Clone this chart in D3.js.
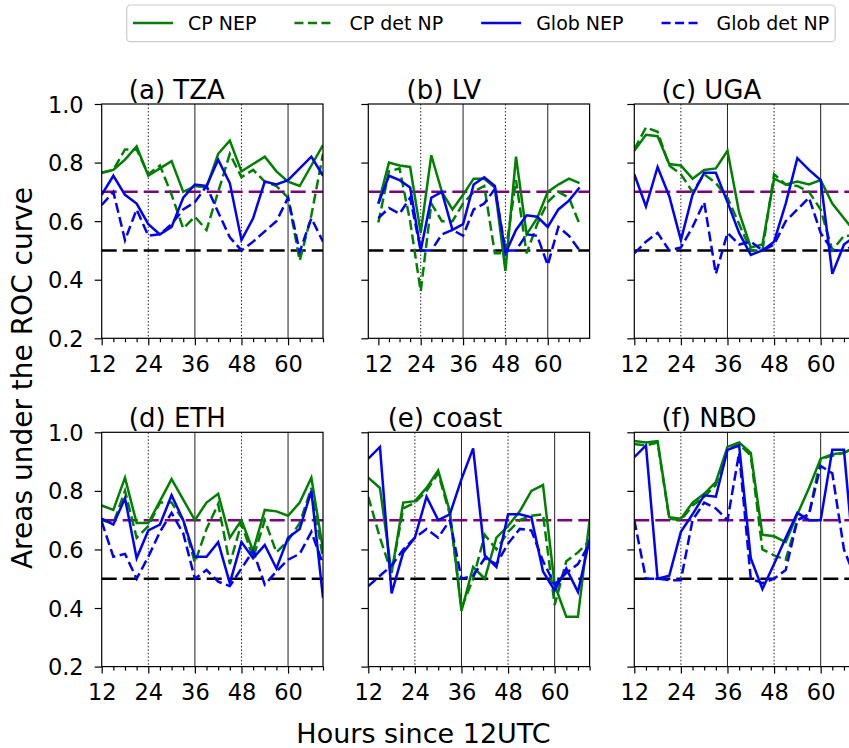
<!DOCTYPE html>
<html>
<head>
<meta charset="utf-8">
<script src="https://cdn.jsdelivr.net/npm/d3@7"></script>
<style>
  body { margin: 0; background: #fff; }
  svg { display: block; font-family: "DejaVu Sans", sans-serif; }
  .tick line { stroke: #000; stroke-width: 1.2; }
</style>
</head>
<body>
<div id="chart"></div>
<script>
// lead times (hours since 12UTC)
const hours = [12, 15, 18, 21, 24, 27, 30, 33, 36, 39, 42, 45, 48, 51, 54, 57, 60, 63, 66, 69];
const xMajor = [12, 24, 36, 48, 60];
const yTicks = [0.2, 0.4, 0.6, 0.8, 1.0];

// (a) TZA
const tzaCpNep = [0.765, 0.775, 0.81, 0.855, 0.755, 0.78, 0.805, 0.70, 0.72, 0.715, 0.83, 0.875, 0.77, 0.795, 0.82, 0.77, 0.735, 0.72, 0.79, 0.86];
const tzaCpDet = [0.765, 0.775, 0.845, 0.845, 0.76, 0.79, 0.69, 0.575, 0.615, 0.57, 0.70, 0.83, 0.75, 0.775, 0.735, 0.72, 0.68, 0.465, 0.62, 0.83];
const tzaGlNep = [0.69, 0.755, 0.69, 0.66, 0.59, 0.555, 0.58, 0.68, 0.725, 0.72, 0.81, 0.73, 0.535, 0.61, 0.735, 0.725, 0.74, 0.78, 0.82, 0.755];
const tzaGlDet = [0.655, 0.70, 0.535, 0.64, 0.55, 0.555, 0.59, 0.64, 0.665, 0.72, 0.63, 0.545, 0.50, 0.53, 0.565, 0.60, 0.68, 0.495, 0.61, 0.53];

// (b) LV
const lvCpNep = [0.66, 0.80, 0.79, 0.785, 0.56, 0.825, 0.70, 0.64, 0.69, 0.745, 0.745, 0.715, 0.43, 0.82, 0.555, 0.61, 0.70, 0.725, 0.745, 0.73];
const lvCpDet = [0.595, 0.77, 0.78, 0.60, 0.36, 0.66, 0.60, 0.60, 0.66, 0.70, 0.72, 0.49, 0.49, 0.74, 0.49, 0.59, 0.665, 0.70, 0.68, 0.59];
const lvGlNep = [0.66, 0.755, 0.74, 0.715, 0.50, 0.68, 0.70, 0.57, 0.59, 0.725, 0.75, 0.72, 0.49, 0.57, 0.62, 0.615, 0.58, 0.64, 0.67, 0.715];
const lvGlDet = [0.61, 0.645, 0.625, 0.68, 0.50, 0.50, 0.555, 0.57, 0.55, 0.64, 0.66, 0.71, 0.50, 0.50, 0.555, 0.55, 0.45, 0.58, 0.55, 0.50];

// (c) UGA
const ugaCpNep = [0.84, 0.895, 0.89, 0.795, 0.79, 0.745, 0.775, 0.78, 0.84, 0.63, 0.51, 0.52, 0.745, 0.725, 0.735, 0.725, 0.74, 0.66, 0.61, 0.56];
const ugaCpDet = [0.845, 0.92, 0.905, 0.79, 0.76, 0.70, 0.76, 0.73, 0.68, 0.59, 0.50, 0.50, 0.76, 0.725, 0.72, 0.70, 0.64, 0.50, 0.55, 0.55];
const ugaGlNep = [0.76, 0.65, 0.785, 0.685, 0.535, 0.69, 0.765, 0.765, 0.665, 0.56, 0.485, 0.50, 0.53, 0.66, 0.815, 0.775, 0.74, 0.42, 0.52, 0.55];
const ugaGlDet = [0.49, 0.53, 0.56, 0.50, 0.51, 0.58, 0.665, 0.42, 0.56, 0.52, 0.53, 0.50, 0.52, 0.60, 0.64, 0.68, 0.56, 0.50, 0.50, 0.52];

// (d) ETH
const ethCpNep = [0.75, 0.735, 0.845, 0.69, 0.69, 0.765, 0.84, 0.77, 0.70, 0.76, 0.79, 0.64, 0.70, 0.595, 0.735, 0.73, 0.715, 0.76, 0.845, 0.60];
const ethCpDet = [0.70, 0.69, 0.80, 0.64, 0.68, 0.76, 0.76, 0.70, 0.555, 0.67, 0.755, 0.55, 0.69, 0.57, 0.70, 0.59, 0.63, 0.69, 0.81, 0.57];
const ethGlNep = [0.705, 0.685, 0.775, 0.57, 0.665, 0.685, 0.785, 0.70, 0.575, 0.575, 0.625, 0.485, 0.625, 0.57, 0.615, 0.535, 0.64, 0.67, 0.80, 0.435];
const ethGlDet = [0.695, 0.575, 0.585, 0.50, 0.575, 0.66, 0.725, 0.655, 0.50, 0.53, 0.49, 0.475, 0.535, 0.595, 0.48, 0.525, 0.565, 0.585, 0.66, 0.55];

// (e) coast
const coastCpNep = [0.845, 0.81, 0.52, 0.76, 0.765, 0.81, 0.87, 0.73, 0.39, 0.54, 0.50, 0.64, 0.68, 0.73, 0.80, 0.82, 0.48, 0.37, 0.37, 0.70];
const coastCpDet = [0.78, 0.64, 0.52, 0.74, 0.76, 0.80, 0.86, 0.72, 0.40, 0.50, 0.65, 0.60, 0.66, 0.70, 0.715, 0.72, 0.41, 0.56, 0.59, 0.63];
const coastGlNep = [0.91, 0.95, 0.45, 0.59, 0.64, 0.78, 0.70, 0.72, 0.84, 0.945, 0.58, 0.54, 0.72, 0.72, 0.71, 0.525, 0.46, 0.535, 0.455, 0.635];
const coastGlDet = [0.475, 0.51, 0.545, 0.60, 0.64, 0.67, 0.64, 0.70, 0.50, 0.51, 0.57, 0.55, 0.62, 0.67, 0.665, 0.56, 0.48, 0.52, 0.55, 0.62];

// (f) NBO
const nboCpNep = [0.97, 0.965, 0.97, 0.71, 0.705, 0.76, 0.79, 0.83, 0.95, 0.965, 0.93, 0.65, 0.645, 0.625, 0.72, 0.81, 0.91, 0.925, 0.93, 0.95];
const nboCpDet = [0.96, 0.955, 0.965, 0.705, 0.70, 0.75, 0.78, 0.82, 0.94, 0.96, 0.92, 0.60, 0.58, 0.565, 0.70, 0.72, 0.91, 0.92, 0.93, 0.95];
const nboGlNep = [0.915, 0.955, 0.50, 0.51, 0.66, 0.72, 0.785, 0.78, 0.94, 0.955, 0.57, 0.465, 0.55, 0.64, 0.725, 0.70, 0.70, 0.94, 0.94, 0.50];
const nboGlDet = [0.70, 0.50, 0.50, 0.495, 0.495, 0.70, 0.76, 0.74, 0.70, 0.93, 0.50, 0.485, 0.50, 0.53, 0.70, 0.72, 0.885, 0.86, 0.60, 0.50];

const seriesNames = ["CP NEP", "CP det NP", "Glob NEP", "Glob det NP"];
const seriesColors = ["#008000", "#008000", "#0000ff", "#0000ff"];
const seriesDash = [null, "10,4.5", null, "10,4.5"];

const panels = [
  { title: "(a) TZA",   series: [tzaCpNep, tzaCpDet, tzaGlNep, tzaGlDet],         row: 0, col: 0, xdom: [12, 69],      titleAt: 19 },
  { title: "(b) LV",    series: [lvCpNep, lvCpDet, lvGlNep, lvGlDet],             row: 0, col: 1, xdom: [9.15, 71.85], titleAt: 20 },
  { title: "(c) UGA",   series: [ugaCpNep, ugaCpDet, ugaGlNep, ugaGlDet],         row: 0, col: 2, xdom: [12, 69],      titleAt: 19 },
  { title: "(d) ETH",   series: [ethCpNep, ethCpDet, ethGlNep, ethGlDet],         row: 1, col: 0, xdom: [12, 69],      titleAt: 19 },
  { title: "(e) coast", series: [coastCpNep, coastCpDet, coastGlNep, coastGlDet], row: 1, col: 1, xdom: [12, 69],      titleAt: 17 },
  { title: "(f) NBO",   series: [nboCpNep, nboCpDet, nboGlNep, nboGlDet],         row: 1, col: 2, xdom: [12, 69],      titleAt: 19 },
];

const width = 849, height = 748;
const colLeft = [101.7, 368.3, 634.3];
const rowTop = [104, 432.3];
const pw = 221.3, ph = 234.3;
const tickFont = 22.5;

const svg = d3.select("#chart").append("svg")
  .attr("width", width).attr("height", height);

const minorTicks = hours.filter((h) => !xMajor.includes(h));

panels.forEach((p, i) => {
  const left = colLeft[p.col], top = rowTop[p.row];
  const x = d3.scaleLinear().domain(p.xdom).range([0, pw]);
  const y = d3.scaleLinear().domain([0.2, 1.0]).range([ph, 0]);

  const g = svg.append("g").attr("transform", `translate(${left},${top})`);

  svg.append("clipPath").attr("id", "clip" + i)
    .append("rect").attr("width", pw).attr("height", ph);

  const plot = g.append("g").attr("clip-path", `url(#clip${i})`);

  // vertical guide lines
  [24, 48].forEach((h) => {
    plot.append("line")
      .attr("x1", x(h)).attr("x2", x(h)).attr("y1", 0).attr("y2", ph)
      .attr("stroke", "#222").attr("stroke-width", 1).attr("stroke-dasharray", "1.5,2");
  });
  [36, 60].forEach((h) => {
    plot.append("line")
      .attr("x1", x(h)).attr("x2", x(h)).attr("y1", 0).attr("y2", ph)
      .attr("stroke", "#222").attr("stroke-width", 1);
  });

  // reference levels
  plot.append("line")
    .attr("x1", 0).attr("x2", pw).attr("y1", y(0.7)).attr("y2", y(0.7))
    .attr("stroke", "#800080").attr("stroke-width", 2.5).attr("stroke-dasharray", "15,6");
  plot.append("line")
    .attr("x1", 0).attr("x2", pw).attr("y1", y(0.5)).attr("y2", y(0.5))
    .attr("stroke", "#000").attr("stroke-width", 2.5).attr("stroke-dasharray", "15,6");

  const line = d3.line().x((d, k) => x(hours[k])).y((d) => y(d));

  p.series.forEach((vals, s) => {
    plot.append("path")
      .datum(vals)
      .attr("d", line)
      .attr("fill", "none")
      .attr("stroke", seriesColors[s])
      .attr("stroke-width", 2.5)
      .attr("stroke-linejoin", "miter")
      .attr("stroke-dasharray", seriesDash[s]);
  });

  // x axis
  const xAxis = g.append("g").attr("transform", `translate(0,${ph})`)
    .call(d3.axisBottom(x).tickValues(xMajor).tickSize(7).tickPadding(10.6).tickFormat(d3.format("d")));
  xAxis.select(".domain").remove();
  xAxis.selectAll("text").attr("font-size", tickFont).attr("fill", "#000").attr("font-family", "DejaVu Sans");

  const xMinor = g.append("g").attr("transform", `translate(0,${ph})`)
    .call(d3.axisBottom(x).tickValues(minorTicks).tickSize(4).tickFormat(""));
  xMinor.select(".domain").remove();

  // y axis
  const yAxis = g.append("g")
    .call(d3.axisLeft(y).tickValues(yTicks).tickSize(7).tickPadding(11)
      .tickFormat(p.col === 0 ? d3.format(".1f") : ""));
  yAxis.select(".domain").remove();
  yAxis.selectAll("text").attr("font-size", tickFont).attr("fill", "#000")
    .attr("dy", "0.36em").attr("font-family", "DejaVu Sans");

  // spines
  g.append("rect").attr("width", pw).attr("height", ph)
    .attr("fill", "none").attr("stroke", "#000").attr("stroke-width", 1.2);

  // panel title
  g.append("text")
    .attr("x", x(p.titleAt)).attr("y", -5)
    .attr("font-size", 26).attr("fill", "#000")
    .text(p.title);
});

// axis labels
svg.append("text")
  .attr("x", 423.5).attr("y", 743)
  .attr("text-anchor", "middle").attr("font-size", 27)
  .text("Hours since 12UTC");

svg.append("text")
  .attr("transform", "translate(32,378) rotate(-90)")
  .attr("text-anchor", "middle").attr("font-size", 28)
  .text("Areas under the ROC curve");

// legend
const legend = svg.append("g");
const legendBox = legend.append("rect")
  .attr("x", 126.7).attr("y", 5).attr("height", 36.7).attr("rx", 4)
  .attr("fill", "#fff").attr("stroke", "#ccc").attr("stroke-width", 1.2);

let lx = 133;
seriesNames.forEach((name, s) => {
  legend.append("line")
    .attr("x1", lx).attr("x2", lx + 40).attr("y1", 23).attr("y2", 23)
    .attr("stroke", seriesColors[s]).attr("stroke-width", 2.5)
    .attr("stroke-dasharray", seriesDash[s] ? "9,4.5" : null);
  const t = legend.append("text")
    .attr("x", lx + 55).attr("y", 30)
    .attr("font-size", 19).attr("fill", "#000")
    .text(name);
  lx += 55 + t.node().getComputedTextLength() + 38;
});
legendBox.attr("width", lx - 38 + 6 - 126.7);
</script>
</body>
</html>
